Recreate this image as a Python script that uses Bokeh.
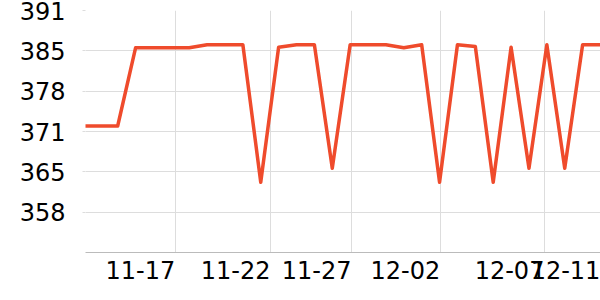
import numpy as np
from bokeh.plotting import figure
from bokeh.models import FixedTicker, NumeralTickFormatter, Range1d
from bokeh.embed import file_html
from bokeh.resources import INLINE

# ---- data ----
dates = ["11-12", "11-13", "11-14", "11-15", "11-16", "11-17", "11-18", "11-19",
         "11-20", "11-21", "11-22", "11-23", "11-24", "11-25", "11-26", "11-27",
         "11-28", "11-29", "11-30", "12-01", "12-02", "12-03", "12-04", "12-05",
         "12-06", "12-07", "12-08", "12-09", "12-10", "12-11"]
values = [372.3, 372.3, 372.3, 385.1, 385.1, 385.1, 385.1, 385.6, 385.6, 385.6,
          363.1, 385.2, 385.6, 385.6, 365.4, 385.6, 385.6, 385.6, 385.1, 385.6,
          363.1, 385.6, 385.3, 363.1, 385.2, 365.4, 385.6, 365.4, 385.6, 385.6]
x_tick_labels = ["11-17", "11-22", "11-27", "12-02", "12-07", "12-11"]
x_tick_pos = [5.23, 10.55, 15.08, 20.05, 25.87, 29.0]   # where gridlines sit
y_ticks = [358.2, 364.8, 371.4, 378.0, 384.6, 391.2]

X_START, X_END = 0.2, 29.0
Y_START, Y_END = 351.6, 391.2
W, H = 600, 300
LEFT, RIGHT, TOP, BOTTOM = 85, 0, 10, 48

x = np.arange(len(values))

p = figure(width=W, height=H, output_backend="svg", toolbar_location=None,
           x_range=Range1d(X_START, X_END), y_range=Range1d(Y_START, Y_END),
           min_border_left=LEFT, min_border_right=RIGHT,
           min_border_top=TOP, min_border_bottom=BOTTOM)
p.outline_line_color = None
p.background_fill_color = "white"
p.border_fill_color = "white"

p.line(x, values, line_color="#ef4b2c", line_width=3.5, line_join="round")

# grid
p.xgrid.ticker = FixedTicker(ticks=[X_START] + x_tick_pos)
p.ygrid.ticker = FixedTicker(ticks=y_ticks)
p.xgrid.grid_line_color = "#dddddd"
p.ygrid.grid_line_color = "#dddddd"
p.xgrid.grid_line_width = 1
p.ygrid.grid_line_width = 1

# x axis: labels right-aligned to gridlines -> shift centers left by half label width
frame_w = W - LEFT - RIGHT
px_per_unit = frame_w / (X_END - X_START)
label_half_px = 35
centers = [t - label_half_px / px_per_unit for t in x_tick_pos]
xa = p.xaxis[0]
xa.ticker = FixedTicker(ticks=centers)
xa.major_label_overrides = {c: lab for c, lab in zip(centers, x_tick_labels)}
xa.axis_line_color = "#bbbbbb"
xa.major_tick_out = 0
xa.major_tick_in = 0
xa.minor_tick_out = 0
xa.minor_tick_in = 0
xa.major_label_standoff = 8
xa.major_label_text_font = "DejaVu Sans"
xa.major_label_text_font_size = "24px"
xa.major_label_text_color = "black"

ya = p.yaxis[0]
ya.ticker = FixedTicker(ticks=y_ticks)
ya.formatter = NumeralTickFormatter(format="0")
ya.axis_line_color = None
ya.major_tick_out = 3
ya.major_tick_in = 0
ya.major_tick_line_color = "#dddddd"
ya.minor_tick_out = 0
ya.minor_tick_in = 0
ya.major_label_standoff = 17
ya.major_label_text_font = "DejaVu Sans"
ya.major_label_text_font_size = "24px"
ya.major_label_text_color = "black"

open("out.html", "w").write(file_html(p, INLINE))
